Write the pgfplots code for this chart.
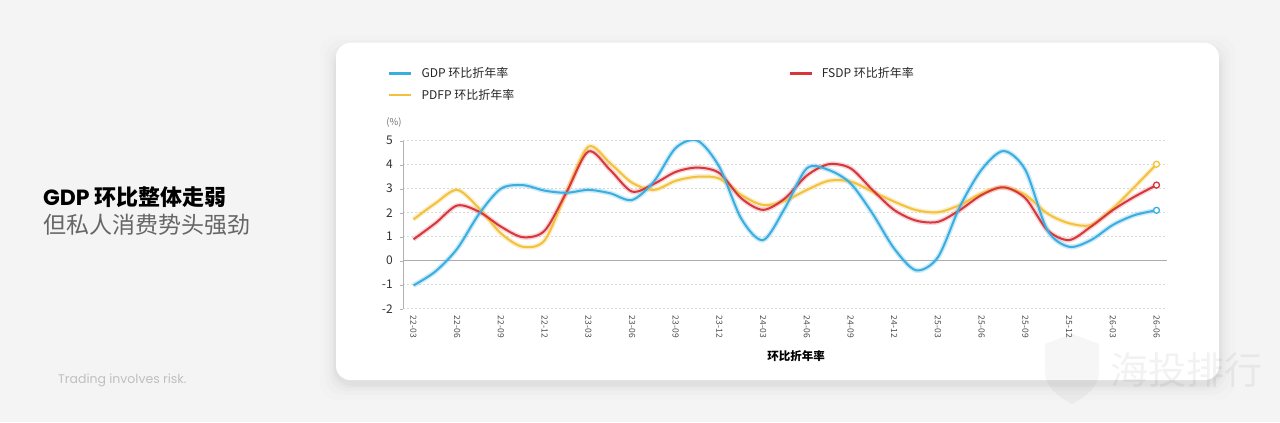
\documentclass[border=0pt]{standalone}
\usepackage{pgfplots}
\pgfplotsset{compat=1.18}
\usepackage{pgfplotstable}
\usepackage{fontspec}
\setmainfont{Noto Sans CJK SC}
\newfontfamily\pop{Poppins}
\definecolor{bg}{HTML}{F4F4F4}
\definecolor{cblue}{HTML}{3AAEE0}
\definecolor{cred}{HTML}{D6363C}
\definecolor{cyel}{HTML}{F2C23E}
\definecolor{gridc}{HTML}{DADADA}
\pgfplotstableread{
x gdp fsdp pdfp
0 -1.03 0.89 1.72
0.5 -0.45 1.56 2.39
1 0.50 2.30 2.95
1.5 1.95 2.04 2.18
2 3.00 1.42 1.14
2.5 3.15 0.98 0.58
3 2.92 1.25 0.85
3.5 2.83 2.85 2.85
4 2.95 4.55 4.75
4.5 2.81 3.78 4.06
5 2.53 2.88 3.25
5.5 3.30 3.20 2.95
6 4.70 3.70 3.33
6.5 5.00 3.88 3.50
7 3.90 3.65 3.42
7.5 1.75 2.60 2.74
8 0.86 2.12 2.32
8.5 2.20 2.60 2.50
9 3.85 3.55 2.95
9.5 3.78 4.02 3.33
10 3.22 3.85 3.30
10.5 1.97 2.95 2.88
11 0.50 2.11 2.46
11.5 -0.40 1.67 2.11
12 0.15 1.62 2.02
12.5 2.25 2.11 2.32
13 3.80 2.74 2.81
13.5 4.57 3.06 3.06
14 3.78 2.60 2.74
14.5 1.28 1.28 1.97
15 0.58 0.86 1.56
15.5 0.86 1.42 1.49
16 1.49 2.11 2.18
16.5 1.90 2.67 3.08
17 2.10 3.15 4.02
}\chartdata
\begin{document}
\begin{tikzpicture}[x=1bp,y=1bp]
\useasboundingbox (0,0) rectangle (1280,422);
\fill[bg] (0,0) rectangle (1280,422);
% card shadow
\foreach \s/\o in {16/0.008,11/0.011,7/0.015,4/0.02,2/0.025}{
  \fill[black,opacity=\o,rounded corners=18bp] (336-\s,42-\s-4) rectangle (1219+\s,379+\s-8);
}
\fill[white,rounded corners=14bp] (336,42) rectangle (1219,379);
% left texts
\node[anchor=west,inner sep=0] at (43,225) {\fontsize{22bp}{26bp}\selectfont\bfseries{\pop GDP} 环比整体走弱};
\node[anchor=west,inner sep=0,text=black!60] at (43,197) {\fontsize{23bp}{26bp}\selectfont 但私人消费势头强劲};
\node[anchor=west,inner sep=0,text=black!25] at (58,42) {\fontsize{12.5bp}{14bp}\selectfont\pop Trading involves risk.};
% watermark
\fill[black,opacity=0.035] (1045,78) -- (1072,88) -- (1099,78) -- (1099,50) .. controls (1099,35) and (1085,25) .. (1072,18) .. controls (1059,25) and (1045,35) .. (1045,50) -- cycle;
\node[text=black,opacity=0.05,inner sep=0] at (1186,52) {\fontsize{38bp}{38bp}\selectfont 海投排行};
\begin{axis}[
  at={(403bp,113.3bp)}, anchor=south west,
  scale only axis, width=764bp, height=168bp,
  xmin=-0.24, xmax=17.24, ymin=-2, ymax=5,
  axis lines*=left,
  axis line style={-},
  x axis line style={draw=none},
  y axis line style={draw=gray!60, line width=0.8bp},
  ytick={-2,...,5},
  xtick={0,...,17},
  xticklabels={22-03,22-06,22-09,22-12,23-03,23-06,23-09,23-12,24-03,24-06,24-09,24-12,25-03,25-06,25-09,25-12,26-03,26-06},
  ymajorgrids,
  grid style={gridc, dash pattern=on 2bp off 2bp, line width=0.8bp},
  tick align=outside,
  major tick length=3bp,
  xtick style={draw=none},
  ytick style={draw=gray!60},
  /pgf/number format/assume math mode=true,
  yticklabel style={font=\fontsize{12bp}{14bp}\selectfont, text=black!80, inner sep=0, xshift=-7bp},
  xticklabel style={font=\fontsize{8.5bp}{10bp}\selectfont, text=black!70, rotate=-90, anchor=west, inner xsep=4bp, inner ysep=0},
  extra y ticks={0}, extra y tick labels={},
  extra y tick style={grid style={solid, gray!65, line width=1bp}},
  legend columns=2,
  legend cell align=left,
  legend image code/.code={\draw[#1] (0bp,0bp) -- (22bp,0bp);},
  legend style={draw=none, fill=none, inner sep=0, anchor=north west,
     at={(axis description cs:-0.0196,1.436)},
     font=\fontsize{12bp}{14bp}\selectfont, text=black!85, row sep=10bp,
     nodes={inner sep=0bp},
     /tikz/every odd column/.append style={column sep=9bp},
     /tikz/every even column/.append style={column sep=274bp}},
]
\addlegendimage{cblue, line width=2.4bp}\addlegendentry{GDP 环比折年率}
\addlegendimage{cred, line width=2.4bp}\addlegendentry{FSDP 环比折年率}
\addlegendimage{cyel, line width=2.4bp}\addlegendentry{PDFP 环比折年率}
% glows
\addplot[forget plot, cyel, opacity=0.25, line width=5bp, smooth] table[x=x,y=pdfp]{\chartdata};
\addplot[forget plot, cred, opacity=0.2, line width=5bp, smooth] table[x=x,y=fsdp]{\chartdata};
\addplot[forget plot, cblue, opacity=0.25, line width=5bp, smooth] table[x=x,y=gdp]{\chartdata};
% lines
\addplot[forget plot, cyel, line width=2bp, smooth] table[x=x,y=pdfp]{\chartdata};
\addplot[forget plot, cred, line width=2bp, smooth] table[x=x,y=fsdp]{\chartdata};
\addplot[forget plot, cblue, line width=2bp, smooth] table[x=x,y=gdp]{\chartdata};
% end markers
\addplot[forget plot, only marks, mark=*, mark size=3bp, mark options={fill=white, draw=cyel, line width=1.3bp}] coordinates {(17,4.02)};
\addplot[forget plot, only marks, mark=*, mark size=3bp, mark options={fill=white, draw=cred, line width=1.3bp}] coordinates {(17,3.15)};
\addplot[forget plot, only marks, mark=*, mark size=3bp, mark options={fill=white, draw=cblue, line width=1.3bp}] coordinates {(17,2.10)};
\end{axis}
\node[text=black!55,inner sep=0] at (394,299) {\fontsize{9.5bp}{11bp}\selectfont (\%)};
\node[inner sep=0] at (796,65.5) {\fontsize{11.5bp}{13bp}\selectfont\bfseries 环比折年率};
\end{tikzpicture}
\end{document}
